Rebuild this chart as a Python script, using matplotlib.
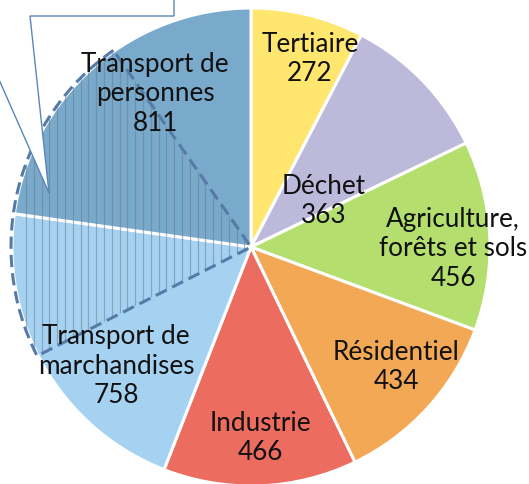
import numpy as np
import matplotlib
matplotlib.use("Agg")
import matplotlib.pyplot as plt
from matplotlib.patches import Wedge, Polygon
from matplotlib.collections import LineCollection

# Data
categories = ["Tertiaire", "Déchet", "Agriculture,\nforêts et sols", "Résidentiel",
              "Industrie", "Transport de\nmarchandises", "Transport de\npersonnes"]
values = [272, 363, 456, 434, 466, 758, 811]
colors = ["#FFE66E", "#BCB9DB", "#B4DE6E", "#F3A855", "#EC6C5F", "#A6D2F2", "#79A9CB"]

plt.rcParams['font.family'] = ['Lato', 'DejaVu Sans']

W, H = 529, 484
fig = plt.figure(figsize=(W / 100, H / 100), dpi=100)
ax = fig.add_axes([0, 0, 1, 1])

cx, cy, R = 251, 237, 239
wedges, _ = ax.pie(values, startangle=90, counterclock=False, colors=colors,
                   center=(cx, cy), radius=R,
                   wedgeprops=dict(edgecolor="white", linewidth=2.2))

# hatched overlay wedge (same share as "Transport de personnes")
total = sum(values)
span = values[-1] / total * 360
th2 = 207
th1 = th2 - span
clipw = Wedge((cx, cy), R, th1, th2, facecolor="none", edgecolor="none")
ax.add_patch(clipw)
xs = np.arange(cx - R + 14, cx + 2, 7.8)
segs = [[(x, cy - R), (x, cy + R)] for x in xs]
lc = LineCollection(segs, colors="#6f7f8f", linewidths=0.9, alpha=0.55, zorder=3)
lc.set_clip_path(clipw)
ax.add_collection(lc)
outline = Wedge((cx, cy), R + 1, th1, th2, facecolor="none", edgecolor="#557BA6",
                linewidth=2.2, linestyle=(0, (4, 2)), zorder=4)
ax.add_patch(outline)

# labels
label_pos = [(310, 425), (324, 283), (453, 235), (396, 117), (260, 46), (116, 118), (155, 390)]
for cat, v, (x, y) in zip(categories, values, label_pos):
    ax.text(x, y, f"{cat}\n{v}", ha="center", va="center", fontsize=18.8,
            linespacing=1.22, color="#111111", zorder=6)

# callout box
pts_px = [(-60, -60), (174, -60), (174, 16), (30, 16), (49, 193), (-29, 16), (-60, 16)]
pts = [(x, H - y) for x, y in pts_px]
ax.add_patch(Polygon(pts, closed=True, facecolor="white", edgecolor="#5A86B8",
                     linewidth=1.0, zorder=5))

ax.set_xlim(0, W)
ax.set_ylim(0, H)
ax.set_aspect("equal")
ax.axis("off")
fig.savefig("out.png", dpi=100)
